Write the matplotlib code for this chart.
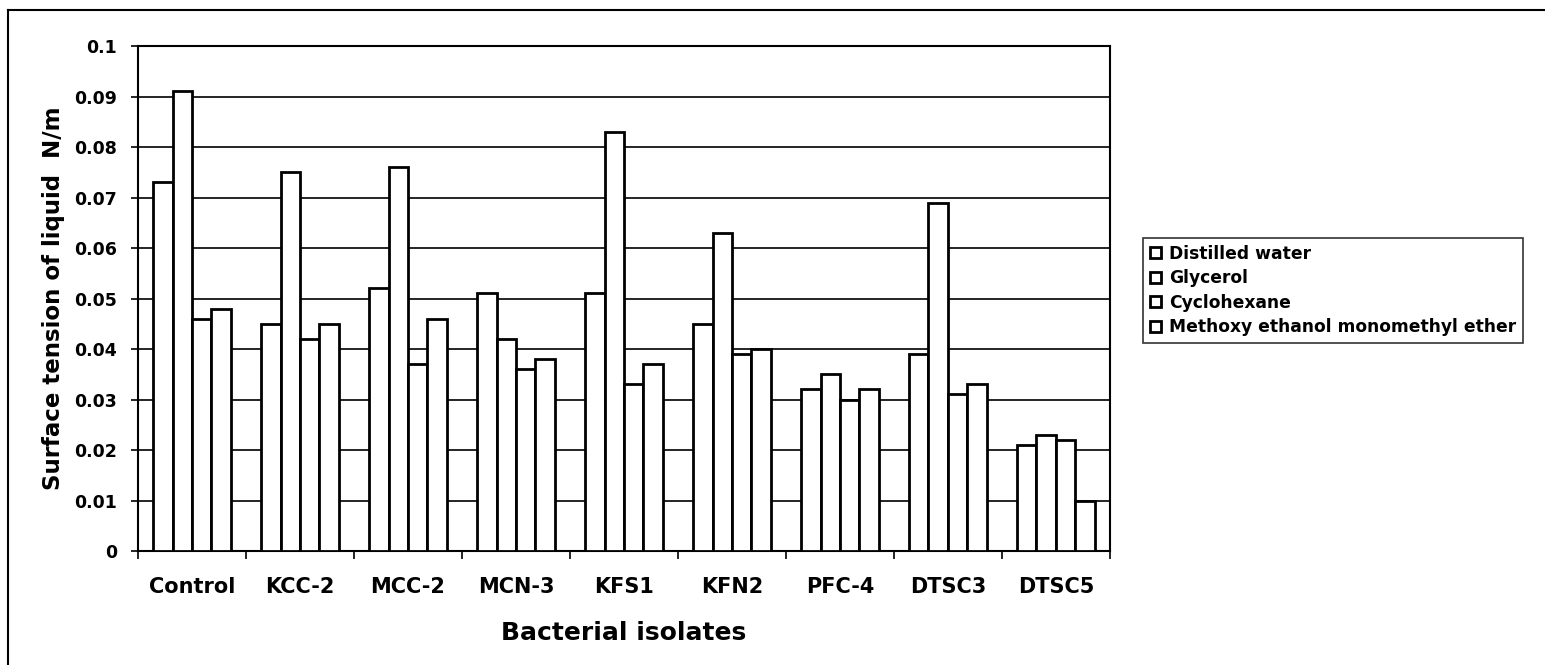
import numpy as np
import matplotlib
matplotlib.use("Agg")
import matplotlib.pyplot as plt
from matplotlib.lines import Line2D

# ===============================
# Data
# ===============================
isolates = ['Control', 'KCC-2', 'MCC-2', 'MCN-3', 'KFS1', 'KFN2', 'PFC-4', 'DTSC3', 'DTSC5']
liquids = ['Distilled water', 'Glycerol', 'Cyclohexane', 'Methoxy ethanol monomethyl ether']

distilled_water = [0.073, 0.045, 0.052, 0.051, 0.051, 0.045, 0.032, 0.039, 0.021]
glycerol = [0.091, 0.075, 0.076, 0.042, 0.083, 0.063, 0.035, 0.069, 0.023]
cyclohexane = [0.046, 0.042, 0.037, 0.036, 0.033, 0.039, 0.030, 0.031, 0.022]
methoxy_ether = [0.048, 0.045, 0.046, 0.038, 0.037, 0.040, 0.032, 0.033, 0.010]

series = [distilled_water, glycerol, cyclohexane, methoxy_ether]

# wide bold sans, closer to the stretched scan
plt.rcParams['font.family'] = ['DejaVu Sans']
plt.rcParams['font.weight'] = 'bold'

# ===============================
# Figure
# ===============================
fig = plt.figure(figsize=(15.45, 6.65), dpi=100)
ax = fig.add_axes([0.0893, 0.1714, 0.6291, 0.7594])

x = np.arange(len(isolates))
width = 0.18
for i, vals in enumerate(series):
    ax.bar(x + (i - 1.5) * width, vals, width, color='white', edgecolor='black',
           linewidth=2.0, label=liquids[i], zorder=3)

ax.set_xlim(-0.5, len(isolates) - 0.5)
ax.set_ylim(0, 0.1)
ax.set_yticks(np.arange(0, 0.101, 0.01))
ax.set_yticklabels(['0'] + ['%.2f' % v for v in np.arange(0.01, 0.1, 0.01)] + ['0.1'],
                   fontsize=12.5, fontweight='bold')
ax.yaxis.grid(True, color='black', linewidth=1.2, zorder=0)

# category labels between boundary ticks
ax.set_xticks(np.arange(-0.5, len(isolates), 1))
ax.set_xticklabels([])
ax.set_xticks(x, minor=True)
ax.set_xticklabels(isolates, minor=True, fontsize=15, fontweight='bold')
ax.tick_params(axis='x', which='minor', length=0, pad=19)
ax.tick_params(axis='x', which='major', length=6, width=1.2, direction='out')
ax.tick_params(axis='y', length=5, width=1.2, direction='out', pad=10)

for s in ax.spines.values():
    s.set_linewidth(1.5)

ax.set_ylabel('Surface tension of liquid  N/m', fontsize=16.5, fontweight='bold', labelpad=7)
ax.set_xlabel('Bacterial isolates', fontsize=18, fontweight='bold', labelpad=17)

leg = ax.legend(loc='upper left', bbox_to_anchor=(1.034, 0.62),
                prop={'weight': 'bold', 'size': 12.3}, frameon=True, fancybox=False,
                handlelength=0.65, handleheight=0.65, handletextpad=0.5,
                borderpad=0.4, labelspacing=0.38, borderaxespad=0)
leg.get_frame().set_edgecolor('black')
leg.get_frame().set_linewidth(1.2)

# outer frame (only top and left edges visible in the scan)
fig.add_artist(Line2D([0.005, 1.0], [0.985, 0.985], transform=fig.transFigure,
                      color='black', linewidth=1.5))
fig.add_artist(Line2D([0.005, 0.005], [0.0, 0.985], transform=fig.transFigure,
                      color='black', linewidth=1.5))

plt.savefig('out.png', dpi=100)
plt.close()
